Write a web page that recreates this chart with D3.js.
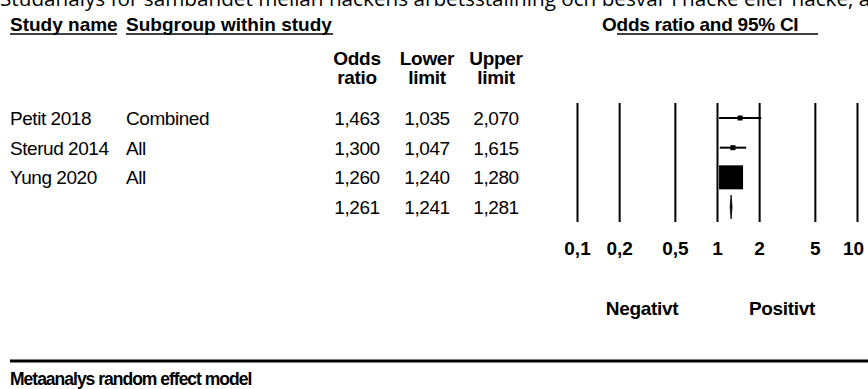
<!DOCTYPE html>
<html>
<head>
<meta charset="utf-8">
<script src="https://cdn.jsdelivr.net/npm/d3@7"></script>
<style>
  html, body { margin: 0; padding: 0; background: #fff; }
  svg { display: block; }
  text { font-family: "Liberation Sans", Arial, sans-serif; fill: #000; }
</style>
</head>
<body>
<svg id="chart" width="868" height="389"></svg>
<script>
// Study rows
const studies = ["Petit 2018", "Sterud 2014", "Yung 2020"];
const subgroups = ["Combined", "All", "All"];
const oddsRatios = [1.463, 1.300, 1.260];
const lowerLimits = [1.035, 1.047, 1.240];
const upperLimits = [2.070, 1.615, 1.280];

// Pooled estimate: odds ratio, lower, upper
const summaryValues = [1.261, 1.241, 1.281];

// Axis
const tickValues = [0.1, 0.2, 0.5, 1, 2, 5, 10];
const tickLabels = ["0,1", "0,2", "0,5", "1", "2", "5", "10"];
const sideLabels = ["Negativt", "Positivt"];

const headerLabels = ["Study name", "Subgroup within study", "Odds ratio and 95% CI"];
const columnTop = ["Odds", "Lower", "Upper"];
const columnBottom = ["ratio", "limit", "limit"];
const titleText = "Studanalys för sambandet mellan nackens arbetsställning och besvär i nacke eller nacke, axel";
const footerText = "Metaanalys random effect model";

const svg = d3.select("#chart");
const fmt = d3.formatLocale({decimal: ",", thousands: " ", grouping: [3], currency: ["", ""]}).format(".3f");

// Scales
const x = d3.scaleLog().domain([0.1, 10]).range([577, 857]);
const rowY = d3.scalePoint().domain(d3.range(studies.length + 1)).range([118, 207]);
const colX = [357, 427, 496];

// Heading running off the top of the page
svg.append("text")
  .attr("x", 0).attr("y", 5.5)
  .style("font-family", "'Open Sans', sans-serif")
  .style("font-size", "20.7px")
  .text(titleText);

// Column headers (underlined)
const hdr = svg.append("g").style("font-weight", "bold").style("font-size", "19px");
hdr.append("text").attr("x", 10).attr("y", 31).text(headerLabels[0]);
hdr.append("text").attr("x", 126).attr("y", 31).text(headerLabels[1]);
hdr.append("text").attr("x", 602).attr("y", 31).style("letter-spacing", "-0.25px").text(headerLabels[2]);
svg.append("g").selectAll("line")
  .data([[10, 117], [126, 333], [617, 818]])
  .join("line")
  .attr("x1", d => d[0]).attr("x2", d => d[1])
  .attr("y1", 34).attr("y2", 34)
  .attr("stroke", "#000").attr("stroke-width", 1.5);

hdr.selectAll("text.top").data(columnTop).join("text")
  .attr("class", "top")
  .attr("x", (d, i) => colX[i]).attr("y", 65)
  .attr("text-anchor", "middle").style("letter-spacing", "-0.3px").text(d => d);
hdr.selectAll("text.bot").data(columnBottom).join("text")
  .attr("class", "bot")
  .attr("x", (d, i) => colX[i]).attr("y", 84)
  .attr("text-anchor", "middle").style("letter-spacing", "-0.3px").text(d => d);

// Row texts
const body = svg.append("g").style("font-size", "19px").style("letter-spacing", "-0.45px");
body.selectAll("text.study").data(studies).join("text")
  .attr("class", "study")
  .attr("x", 10).attr("y", (d, i) => rowY(i) + 7).text(d => d);
body.selectAll("text.sub").data(subgroups).join("text")
  .attr("class", "sub")
  .attr("x", 126).attr("y", (d, i) => rowY(i) + 7).text(d => d);

const numericRows = studies.map((s, i) => [oddsRatios[i], lowerLimits[i], upperLimits[i]]).concat([summaryValues]);
numericRows.forEach((vals, r) => {
  body.selectAll(null).data(vals).join("text")
    .attr("x", (d, i) => colX[i]).attr("y", rowY(r) + 7)
    .attr("text-anchor", "middle").text(d => fmt(d));
});

// Vertical reference lines and tick labels
const axisTop = 103, axisBottom = 222;
const axis = d3.axisBottom(x)
  .tickValues(tickValues)
  .tickFormat((d, i) => tickLabels[i])
  .tickSize(-(axisBottom - axisTop))
  .tickPadding(20);
const ax = svg.append("g").attr("transform", `translate(0,${axisBottom})`).call(axis);
ax.select(".domain").remove();
ax.selectAll(".tick line").attr("stroke", "#000").attr("stroke-width", 2);
ax.selectAll(".tick text")
  .style("font-family", "'Liberation Sans', Arial, sans-serif")
  .style("font-size", "19px").style("font-weight", "bold").attr("fill", "#000")
  .attr("dx", (d, i) => i === tickValues.length - 1 ? -4 : 0);

// Side labels centred in each half of the axis
svg.append("g").style("font-size", "19px").style("font-weight", "bold")
  .selectAll("text").data(sideLabels).join("text")
  .attr("x", (d, i) => i === 0 ? (x(0.1) + x(1)) / 2 - 5 : (x(1) + x(10)) / 2 - 5)
  .attr("y", 315).attr("text-anchor", "middle").style("letter-spacing", "-0.3px").text(d => d);

// Study weights from inverse variance of log odds ratio
const weights = studies.map((s, i) => {
  const se = (Math.log(upperLimits[i]) - Math.log(lowerLimits[i])) / (2 * 1.959964);
  return 1 / (se * se);
});
const size = d3.scaleSqrt().domain([0, d3.max(weights)]).range([0, 24]);
const side = i => Math.max(5, size(weights[i]));

const marks = svg.append("g");
marks.selectAll("line.ci").data(studies).join("line")
  .attr("class", "ci")
  .attr("x1", (d, i) => x(lowerLimits[i])).attr("x2", (d, i) => x(upperLimits[i]))
  .attr("y1", (d, i) => rowY(i)).attr("y2", (d, i) => rowY(i))
  .attr("stroke", "#000").attr("stroke-width", 2);
marks.selectAll("rect").data(studies).join("rect")
  .attr("x", (d, i) => x(oddsRatios[i]) - side(i) / 2)
  .attr("y", (d, i) => rowY(i) - side(i) / 2)
  .attr("width", (d, i) => side(i))
  .attr("height", (d, i) => side(i))
  .attr("fill", "#000");

// Pooled diamond
const sy = rowY(studies.length);
marks.append("path")
  .attr("d", `M${x(summaryValues[1])},${sy} L${x(summaryValues[0])},${sy - 12} L${x(summaryValues[2])},${sy} L${x(summaryValues[0])},${sy + 12} Z`)
  .attr("fill", "#000").attr("stroke", "#000").attr("stroke-width", 0.8);

// Footer
svg.append("line").attr("x1", 10).attr("x2", 868).attr("y1", 361).attr("y2", 361)
  .attr("stroke", "#000").attr("stroke-width", 3);
svg.append("text").attr("x", 10).attr("y", 385)
  .style("font-size", "17.5px").style("font-weight", "bold").style("letter-spacing", "-1px")
  .text(footerText);
</script>
</body>
</html>
